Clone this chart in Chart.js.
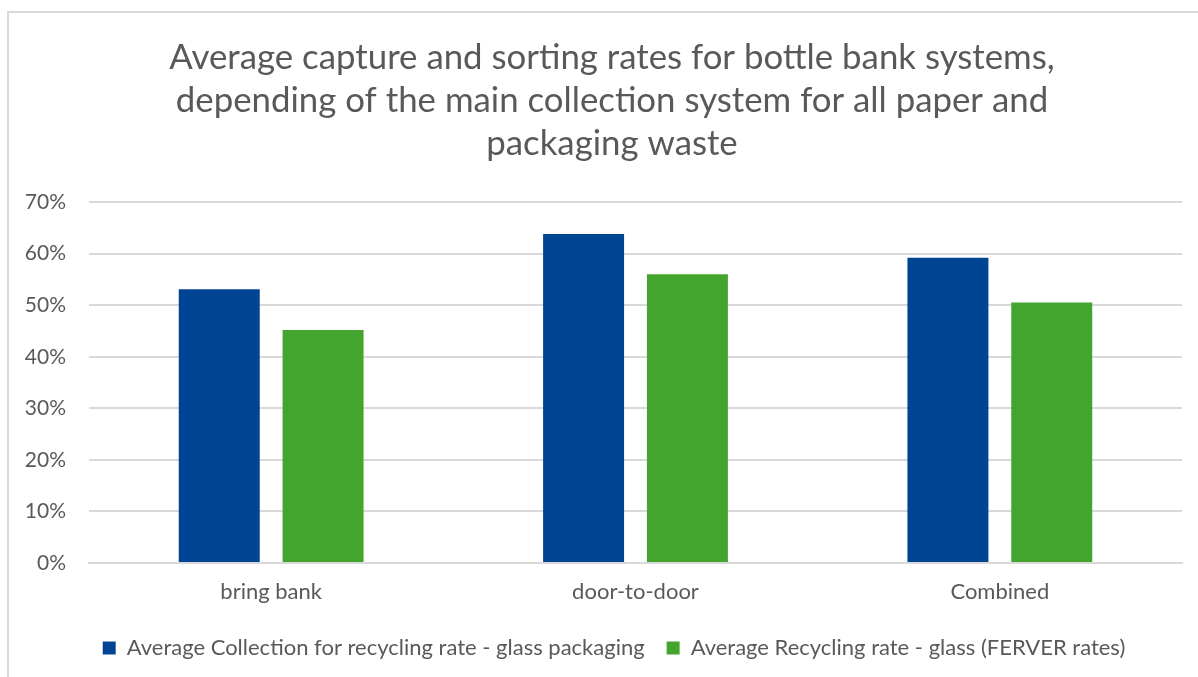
<!DOCTYPE html>
<html>
<head>
<meta charset="utf-8">
<script src="https://cdn.jsdelivr.net/npm/chart.js@4"></script>
<style>
  html, body { margin: 0; padding: 0; background: #fff; }
  #wrap { position: relative; width: 1198px; height: 677px; overflow: hidden; }
  #frame { position: absolute; left: 7px; top: 11px; width: 1300px; height: 800px;
           border-left: 2px solid #d9d9d9; border-top: 2px solid #d9d9d9; }
  canvas { position: absolute; left: 0; top: 0; }
</style>
</head>
<body>
<div id="wrap">
  <div id="frame"></div>
  <canvas id="c" width="1198" height="677"></canvas>
</div>
<script>
const titleLines = [
  "Average capture and sorting rates for bottle bank systems,",
  "depending of the main collection system for all paper and",
  "packaging waste"
];
const categories = ["bring bank", "door-to-door", "Combined"];
const seriesNames = [
  "Average Collection for recycling rate - glass packaging",
  "Average Recycling rate - glass (FERVER rates)"
];
const collectionRate = [53.1, 63.8, 59.2];
const recyclingRate = [45.2, 56.0, 50.5];
const yTicks = [0, 10, 20, 30, 40, 50, 60, 70];

const gray = '#595959';
const font = 'Lato, "Open Sans", sans-serif';

// shifts the title and legend boxes slightly right, as in the original layout
const shiftBoxes = {
  id: 'shiftBoxes',
  afterLayout(chart) {
    if (chart.titleBlock) { chart.titleBlock.left += 11; chart.titleBlock.right += 11; }
    if (chart.legend) { chart.legend.left += 13; chart.legend.right += 13; }
  }
};

new Chart(document.getElementById('c'), {
  type: 'bar',
  data: {
    labels: categories,
    datasets: [
      { label: seriesNames[0], data: collectionRate, backgroundColor: '#004593',
        borderColor: '#004593', borderWidth: 0 },
      { label: seriesNames[1], data: recyclingRate, backgroundColor: '#43a52d',
        borderColor: '#43a52d', borderWidth: 0 }
    ]
  },
  plugins: [shiftBoxes],
  options: {
    responsive: false,
    animation: false,
    devicePixelRatio: 1,
    layout: { padding: { left: 20, right: 16, top: 0, bottom: 8 } },
    datasets: { bar: { barPercentage: 0.78, categoryPercentage: 0.57 } },
    plugins: {
      title: {
        display: true,
        text: titleLines,
        color: gray,
        font: { family: font, size: 34.8, weight: 'normal', lineHeight: 1.236 },
        padding: { top: 36, bottom: 37 }
      },
      legend: {
        position: 'bottom',
        labels: {
          color: gray,
          font: { family: font, size: 22 },
          boxWidth: 13,
          boxHeight: 13,
          padding: 22
        }
      },
      tooltip: { enabled: false }
    },
    scales: {
      x: {
        afterFit: (axis) => { axis.height = 52; },
        grid: { display: false, drawTicks: false },
        border: { display: true, color: '#d9d9d9', width: 2 },
        ticks: { color: gray, font: { family: font, size: 22 }, padding: 16 }
      },
      y: {
        min: 0, max: 70,
        afterFit: (axis) => { axis.width = 69; },
        afterBuildTicks: (axis) => { axis.ticks = yTicks.map(v => ({ value: v })); },
        grid: { color: '#d9d9d9', lineWidth: 2, drawTicks: false },
        border: { display: false },
        ticks: { color: gray, font: { family: font, size: 21 }, padding: 23,
                 callback: (v) => v + '%' }
      }
    }
  }
});
</script>
</body>
</html>
